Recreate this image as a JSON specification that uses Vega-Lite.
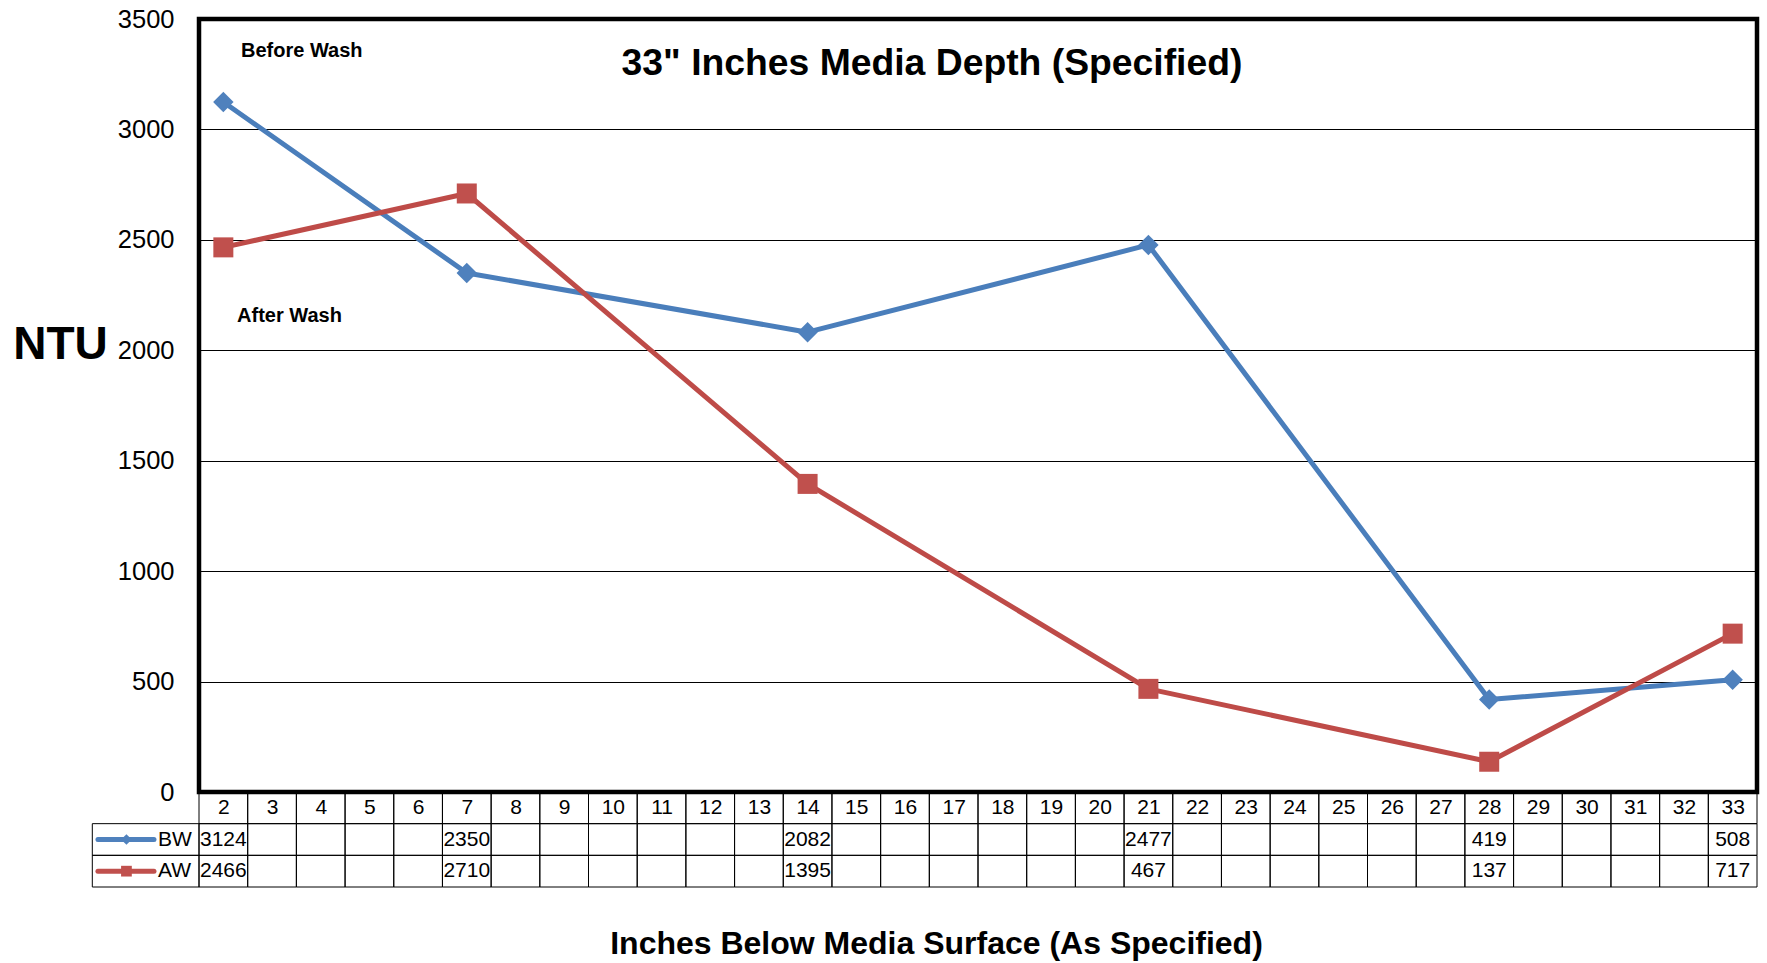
{
  "$schema": "https://vega.github.io/schema/vega-lite/v6.json",
  "width": 1558,
  "height": 773,
  "autosize": {"type": "none"},
  "padding": {"left": 199, "top": 19, "right": 10, "bottom": 171},
  "background": "white",
  "config": {
    "font": "Liberation Sans",
    "view": {"stroke": "black", "strokeWidth": 4.5}
  },
  "title": {
    "text": "33\" Inches Media Depth (Specified)",
    "font": "Liberation Sans",
    "fontSize": 37.3,
    "fontWeight": "bold",
    "color": "black",
    "anchor": "middle",
    "frame": "group",
    "baseline": "alphabetic",
    "dx": -46,
    "offset": -105
  },
  "datasets": {
    "depths": [
      {"depth": 2, "BW": 3124, "AW": 2466},
      {"depth": 3}, {"depth": 4}, {"depth": 5}, {"depth": 6},
      {"depth": 7, "BW": 2350, "AW": 2710},
      {"depth": 8}, {"depth": 9}, {"depth": 10}, {"depth": 11}, {"depth": 12}, {"depth": 13},
      {"depth": 14, "BW": 2082, "AW": 1395},
      {"depth": 15}, {"depth": 16}, {"depth": 17}, {"depth": 18}, {"depth": 19}, {"depth": 20},
      {"depth": 21, "BW": 2477, "AW": 467},
      {"depth": 22}, {"depth": 23}, {"depth": 24}, {"depth": 25}, {"depth": 26}, {"depth": 27},
      {"depth": 28, "BW": 419, "AW": 137},
      {"depth": 29}, {"depth": 30}, {"depth": 31}, {"depth": 32},
      {"depth": 33, "BW": 508, "AW": 717}
    ],
    "series": [{"series": "BW"}, {"series": "AW"}]
  },
  "layer": [
    {
      "data": {"name": "depths"},
      "encoding": {
        "x": {
          "field": "depth",
          "type": "ordinal",
          "scale": {"type": "point", "padding": 0.5, "domain": [2,3,4,5,6,7,8,9,10,11,12,13,14,15,16,17,18,19,20,21,22,23,24,25,26,27,28,29,30,31,32,33]},
          "axis": {
            "title": "Inches Below Media Surface (As Specified)",
            "titleFontSize": 32,
            "titleFontWeight": "bold",
            "titleColor": "black",
            "titleX": 737,
            "titleY": 161,
            "titleAlign": "center",
            "titleBaseline": "alphabetic",
            "labelFontSize": 21,
            "labelColor": "black",
            "labelAngle": 0,
            "labelPadding": 4.5,
            "labelBaseline": "top",
            "labelOverlap": false,
            "labelFlush": false,
            "ticks": false,
            "tickSize": 0,
            "domain": false,
            "grid": false
          }
        }
      },
      "layer": [
        {
          "transform": [{"filter": "isValid(datum.BW)"}],
          "mark": {"type": "line", "color": "#4A7EBB", "strokeWidth": 5, "strokeJoin": "round"},
          "encoding": {
            "y": {
              "field": "BW",
              "type": "quantitative",
              "scale": {"domain": [0, 3500], "nice": false, "zero": true},
              "axis": {
                "title": "NTU",
                "titleAngle": 0,
                "titleFontSize": 46,
                "titleFontWeight": "bold",
                "titleColor": "black",
                "titleX": -139,
                "titleY": 339,
                "titleAlign": "center",
                "titleBaseline": "alphabetic",
                "values": [0, 500, 1000, 1500, 2000, 2500, 3000, 3500],
                "format": "d",
                "labelFontSize": 25.5,
                "labelColor": "black",
                "labelPadding": 25,
                "labelOverlap": false,
                "labelFlush": false,
                "ticks": false,
                "tickSize": 0,
                "domain": false,
                "grid": true,
                "gridColor": "black",
                "gridWidth": 1,
                "gridOpacity": 1
              }
            }
          }
        },
        {
          "transform": [{"filter": "isValid(datum.BW)"}],
          "mark": {"type": "point", "shape": "diamond", "size": 420, "filled": true, "opacity": 1, "color": "#4F81BD"},
          "encoding": {"y": {"field": "BW", "type": "quantitative"}}
        },
        {
          "transform": [{"filter": "isValid(datum.AW)"}],
          "mark": {"type": "line", "color": "#BE4B48", "strokeWidth": 5, "strokeJoin": "round"},
          "encoding": {"y": {"field": "AW", "type": "quantitative"}}
        },
        {
          "transform": [{"filter": "isValid(datum.AW)"}],
          "mark": {"type": "point", "shape": "square", "size": 400, "filled": true, "opacity": 1, "color": "#C0504D"},
          "encoding": {"y": {"field": "AW", "type": "quantitative"}}
        },
        {
          "data": {"values": [{"note": "Before Wash"}]},
          "mark": {"type": "text", "align": "left", "baseline": "middle", "fontSize": 20, "fontWeight": "bold", "color": "black", "dx": 17.7},
          "encoding": {
            "x": {"datum": 2},
            "y": {"datum": 3355},
            "text": {"field": "note", "type": "nominal"}
          }
        },
        {
          "data": {"values": [{"note": "After Wash"}]},
          "mark": {"type": "text", "align": "left", "baseline": "middle", "fontSize": 20, "fontWeight": "bold", "color": "black", "dx": 13.7},
          "encoding": {
            "x": {"datum": 2},
            "y": {"datum": 2155},
            "text": {"field": "note", "type": "nominal"}
          }
        }
      ]
    },
    {
      "data": {"name": "depths"},
      "transform": [{"fold": ["depth", "BW", "AW"], "as": ["row", "value"]}],
      "encoding": {
        "x": {
          "field": "depth",
          "type": "ordinal",
          "scale": {"type": "band", "paddingInner": 0, "paddingOuter": 0, "domain": [2,3,4,5,6,7,8,9,10,11,12,13,14,15,16,17,18,19,20,21,22,23,24,25,26,27,28,29,30,31,32,33]},
          "axis": null
        },
        "y": {
          "field": "row",
          "type": "nominal",
          "scale": {"type": "band", "domain": ["depth", "BW", "AW"], "range": [773, 868], "paddingInner": 0, "paddingOuter": 0},
          "axis": null
        }
      },
      "layer": [
        {
          "mark": {"type": "rect", "fill": "transparent", "stroke": "black", "strokeWidth": 1}
        },
        {
          "transform": [{"filter": "datum.row !== 'depth' && isValid(datum.value)"}],
          "mark": {"type": "text", "fontSize": 21, "color": "black", "align": "center", "baseline": "middle"},
          "encoding": {
            "x": {"field": "depth", "type": "ordinal", "bandPosition": 0.5},
            "y": {"field": "row", "type": "nominal", "bandPosition": 0.5},
            "text": {"field": "value", "type": "nominal"}
          }
        }
      ]
    },
    {
      "data": {"name": "series"},
      "encoding": {
        "y": {
          "field": "series",
          "type": "nominal",
          "scale": {"type": "band", "domain": ["depth", "BW", "AW"], "range": [773, 868], "paddingInner": 0, "paddingOuter": 0},
          "axis": null
        }
      },
      "layer": [
        {
          "mark": {"type": "rect", "fill": "transparent", "stroke": "black", "strokeWidth": 1},
          "encoding": {
            "x": {"datum": 0, "type": "quantitative", "scale": {"domain": [0, 1], "range": [-106.7, 0], "nice": false, "zero": false}, "axis": null},
            "x2": {"datum": 1}
          }
        },
        {
          "mark": {"type": "rule", "strokeWidth": 5, "strokeCap": "round"},
          "encoding": {
            "x": {"datum": 0.053, "type": "quantitative"},
            "x2": {"datum": 0.578},
            "y": {"field": "series", "type": "nominal", "bandPosition": 0.5},
            "color": {"field": "series", "type": "nominal", "scale": {"domain": ["BW", "AW"], "range": ["#4F81BD", "#C0504D"]}, "legend": null}
          }
        },
        {
          "mark": {"type": "point", "filled": true, "opacity": 1, "size": 115},
          "encoding": {
            "x": {"datum": 0.32, "type": "quantitative"},
            "y": {"field": "series", "type": "nominal", "bandPosition": 0.5},
            "color": {"field": "series", "type": "nominal", "legend": null},
            "shape": {"field": "series", "type": "nominal", "scale": {"domain": ["BW", "AW"], "range": ["diamond", "square"]}, "legend": null}
          }
        },
        {
          "mark": {"type": "text", "align": "left", "baseline": "middle", "fontSize": 21, "color": "black"},
          "encoding": {
            "x": {"datum": 0.616, "type": "quantitative"},
            "y": {"field": "series", "type": "nominal", "bandPosition": 0.5},
            "text": {"field": "series", "type": "nominal"}
          }
        }
      ]
    }
  ],
  "resolve": {"scale": {"x": "independent", "y": "independent"}}
}
